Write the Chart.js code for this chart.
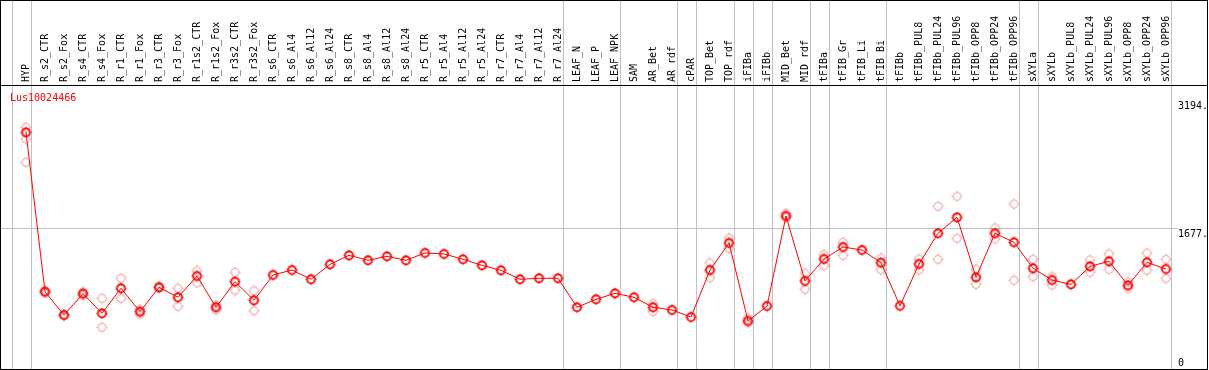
<!DOCTYPE html>
<html>
<head>
<meta charset="utf-8">
<script src="https://cdn.jsdelivr.net/npm/chart.js@4"></script>
<style>
  html, body { margin: 0; padding: 0; background: #fff; }
  #wrap { width: 1209px; height: 370px; position: relative; }
</style>
</head>
<body>
<div id="wrap"><canvas id="chart"></canvas></div>
<script>
const geneName = 'Lus10024466';

const samples = [
    'HYP', 'R_s2_CTR', 'R_s2_Fox', 'R_s4_CTR', 'R_s4_Fox', 'R_r1_CTR', 'R_r1_Fox', 'R_r3_CTR', 'R_r3_Fox',
    'R_r1s2_CTR', 'R_r1s2_Fox', 'R_r3s2_CTR', 'R_r3s2_Fox', 'R_s6_CTR', 'R_s6_Al4', 'R_s6_Al12', 'R_s6_Al24',
    'R_s8_CTR', 'R_s8_Al4', 'R_s8_Al12', 'R_s8_Al24', 'R_r5_CTR', 'R_r5_Al4', 'R_r5_Al12', 'R_r5_Al24',
    'R_r7_CTR', 'R_r7_Al4', 'R_r7_Al12', 'R_r7_Al24', 'LEAF_N', 'LEAF_P', 'LEAF_NPK', 'SAM', 'AR_Bet', 'AR_rdf',
    'cPAR', 'TOP_Bet', 'TOP_rdf', 'iFIBa', 'iFIBb', 'MID_Bet', 'MID_rdf', 'tFIBa', 'tFIB_Gr', 'tFIB_Li', 'tFIB_Bi',
    'tFIBb', 'tFIBb_PUL8', 'tFIBb_PUL24', 'tFIBb_PUL96', 'tFIBb_OPP8', 'tFIBb_OPP24', 'tFIBb_OPP96',
    'sXYLa', 'sXYLb', 'sXYLb_PUL8', 'sXYLb_PUL24', 'sXYLb_PUL96', 'sXYLb_OPP8', 'sXYLb_OPP24', 'sXYLb_OPP96'
];

// moyenne
const meanValues = [
    2815, 919, 642, 896, 662, 960, 682, 972, 853, 1106, 734, 1038, 817, 1118, 1177, 1067, 1245,
    1352, 1293, 1340, 1293, 1380, 1368, 1305, 1233, 1174, 1067, 1079, 1079, 734, 829, 900, 853, 734, 702,
    618, 1177, 1499, 571, 749, 1820, 1047, 1308, 1451, 1415, 1264,
    751, 1249, 1614, 1804, 1091, 1614, 1507, 1198, 1058, 1007, 1221, 1281, 995, 1269, 1189
];

// replicats
const rep1 = [
    2875, 935, 650, 919, 841, 1079, 710, 987, 960, 1169, 758, 1150, 931, null, null, null, null,
    null, null, null, null, null, null, null, null, null, null, null, null, null, null, null, null, 777, null,
    null, 1261, 1558, 603, null, 1852, 1138, 1360, 1507, null, 1320,
    null, 1308, 1935, 2054, 1186, 1677, 1962, 1305, 1098, null, 1296, 1368, 1035, 1380, 1305
];
const rep2 = [
    2735, 905, 635, 872, 496, 841, 654, 960, 746, 1026, 702, 936, 693, null, null, null, null,
    null, null, null, null, null, null, null, null, null, null, null, null, null, null, null, null, 682, null,
    null, 1086, 1435, 551, null, 1800, 948, 1229, 1352, null, 1181,
    null, 1177, 1305, 1554, 1007, 1546, 1055, 1098, 999, null, 1150, 1186, 963, 1174, 1079
];
const rep3 = [2458];

const groupEnds = [-1, 0, 28, 31, 34, 35, 37, 38, 39, 41, 42, 45, 52, 53, 60];
const yTickValues = [0, 1677, 3194];
const yTickLabels = [['0', ''], ['', '1677.'], ['', '3194.']];

const monoFont = { family: "'DejaVu Sans Mono', monospace", size: 10 };

function marker(color, width) {
    const c = document.createElement('canvas');
    c.width = 13; c.height = 13;
    const g = c.getContext('2d');
    g.strokeStyle = color;
    g.lineWidth = width;
    g.beginPath();
    g.arc(6.5, 6.5, 4, 0, Math.PI * 2);
    g.stroke();
    g.lineWidth = 1;
    [[6.5, 1, 6.5, 2], [6.5, 11, 6.5, 12], [1, 6.5, 2, 6.5], [11, 6.5, 12, 6.5]].forEach(function(s) {
        g.beginPath(); g.moveTo(s[0], s[1]); g.lineTo(s[2], s[3]); g.stroke();
    });
    return c;
}

const meanMarker = marker('#ff0000', 1.8);
const repMarker = marker('rgba(235,120,120,0.75)', 1);

const framePlugin = {
    id: 'frame',
    beforeDatasetsDraw(chart) {
        const { ctx, scales: { x, y } } = chart;
        ctx.save();
        ctx.strokeStyle = '#c0c0c0';
        ctx.lineWidth = 1;
        groupEnds.forEach(function(i) {
            const px = Math.round(x.getPixelForValue(i + 0.25)) + 0.5;
            ctx.beginPath(); ctx.moveTo(px, 0); ctx.lineTo(px, chart.height); ctx.stroke();
        });
        const py = Math.round(y.getPixelForValue(yTickValues[1])) + 0.5;
        ctx.beginPath(); ctx.moveTo(0, py); ctx.lineTo(chart.chartArea.right + 2, py); ctx.stroke();
        ctx.restore();
    },
    afterDraw(chart) {
        const { ctx, chartArea } = chart;
        ctx.save();
        ctx.strokeStyle = '#000';
        ctx.lineWidth = 1;
        ctx.strokeRect(0.5, 0.5, chart.width - 2, chart.height - 1);
        ctx.beginPath();
        ctx.moveTo(0, Math.round(chartArea.top) + 0.5);
        ctx.lineTo(chart.width - 1, Math.round(chartArea.top) + 0.5);
        ctx.stroke();
        ctx.fillStyle = '#ff0000';
        ctx.font = "10px 'DejaVu Sans Mono', monospace";
        ctx.textBaseline = 'alphabetic';
        ctx.fillText(geneName, 10, chartArea.top + 16);
        ctx.restore();
    }
};

new Chart(document.getElementById('chart'), {
    type: 'line',
    data: {
        labels: samples,
        datasets: [
            { data: meanValues, borderColor: '#ff0000', borderWidth: 1, pointStyle: meanMarker, tension: 0 },
            { data: rep1, showLine: false, pointStyle: repMarker },
            { data: rep2, showLine: false, pointStyle: repMarker },
            { data: rep3, showLine: false, pointStyle: repMarker },
        ],
    },
    options: {
        responsive: true,
        maintainAspectRatio: false,
        animation: false,
        layout: { autoPadding: false, padding: { left: 16.5, right: 0, top: 0, bottom: 0 } },
        plugins: { legend: { display: false }, tooltip: { enabled: false } },
        scales: {
            x: {
                position: 'top',
                offset: true,
                grid: { display: false, drawTicks: false },
                border: { display: false },
                ticks: {
                    autoSkip: false, minRotation: 90, maxRotation: 90, padding: 3, labelOffset: 12,
                    color: '#000', font: monoFont,
                },
                afterFit: function(scale) {
                    scale.height = 85;
                    scale.paddingLeft = 0;
                    scale.paddingRight = 0;
                },
            },
            y: {
                position: 'right',
                min: -12,
                max: 3378,
                grid: { display: false, drawTicks: false },
                border: { display: false },
                afterBuildTicks: function(scale) {
                    scale.ticks = yTickValues.map(function(v) { return { value: v }; });
                },
                ticks: {
                    padding: 2.5, color: '#000', font: monoFont,
                    callback: function(v) { return yTickLabels[yTickValues.indexOf(v)]; },
                },
                afterFit: function(scale) {
                    scale.width = 33.5;
                    scale.paddingTop = 0;
                    scale.paddingBottom = 0;
                },
            },
        },
    },
    plugins: [framePlugin],
});
</script>
</body>
</html>
